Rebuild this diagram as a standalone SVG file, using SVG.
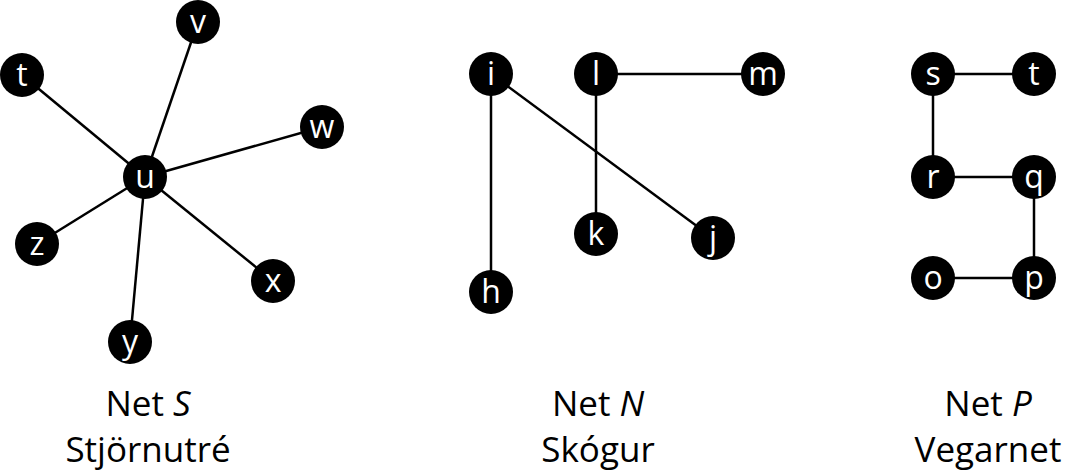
<svg xmlns="http://www.w3.org/2000/svg" width="1082" height="476" viewBox="0 0 1082 476">
<style>
.n circle{fill:#000}
.n text{fill:#fff;font-family:"Open Sans",sans-serif;font-size:32px;text-anchor:middle;dominant-baseline:central}
.e line{stroke:#000;stroke-width:2.5}
.c{font-family:"Open Sans",sans-serif;font-size:35px;text-anchor:middle;fill:#000}
</style>
<rect width="1082" height="476" fill="#fff"/>
<g class="e" id="connectors">
<line x1="145" y1="177" x2="22" y2="75"/>
<line x1="145" y1="177" x2="198" y2="22"/>
<line x1="145" y1="177" x2="322" y2="127"/>
<line x1="145" y1="177" x2="37" y2="244"/>
<line x1="145" y1="177" x2="273" y2="281"/>
<line x1="145" y1="177" x2="130" y2="342"/>
<line x1="491" y1="74" x2="491" y2="292"/>
<line x1="491" y1="74" x2="713" y2="238"/>
<line x1="596" y1="74" x2="763" y2="74"/>
<line x1="596" y1="74" x2="596" y2="234"/>
<line x1="933" y1="74" x2="1034" y2="74"/>
<line x1="933" y1="74" x2="933" y2="177"/>
<line x1="933" y1="177" x2="1034" y2="177"/>
<line x1="1034" y1="177" x2="1034" y2="278"/>
<line x1="933" y1="278" x2="1034" y2="278"/>
</g>
<g class="n" id="S_t"><circle cx="22" cy="75" r="22"/><text x="22" y="73">t</text></g>
<g class="n" id="S_v"><circle cx="198" cy="22" r="22"/><text x="198" y="20">v</text></g>
<g class="n" id="S_w"><circle cx="322" cy="127" r="22"/><text x="322" y="125">w</text></g>
<g class="n" id="S_u"><circle cx="145" cy="177" r="22"/><text x="145" y="175">u</text></g>
<g class="n" id="S_z"><circle cx="37" cy="244" r="22"/><text x="37" y="242">z</text></g>
<g class="n" id="S_x"><circle cx="273" cy="281" r="22"/><text x="273" y="279">x</text></g>
<g class="n" id="S_y"><circle cx="130" cy="342" r="22"/><text x="130" y="340">y</text></g>
<g class="n" id="N_i"><circle cx="491" cy="74" r="22"/><text x="491" y="72">i</text></g>
<g class="n" id="N_l"><circle cx="596" cy="74" r="22"/><text x="596" y="72">l</text></g>
<g class="n" id="N_m"><circle cx="763" cy="74" r="22"/><text x="763" y="72">m</text></g>
<g class="n" id="N_k"><circle cx="596" cy="234" r="22"/><text x="596" y="232">k</text></g>
<g class="n" id="N_j"><circle cx="713" cy="238" r="22"/><text x="713" y="236">j</text></g>
<g class="n" id="N_h"><circle cx="491" cy="292" r="22"/><text x="491" y="290">h</text></g>
<g class="n" id="P_s"><circle cx="933" cy="74" r="22"/><text x="933" y="72">s</text></g>
<g class="n" id="P_t"><circle cx="1034" cy="74" r="22"/><text x="1034" y="72">t</text></g>
<g class="n" id="P_r"><circle cx="933" cy="177" r="22"/><text x="933" y="175">r</text></g>
<g class="n" id="P_q"><circle cx="1034" cy="177" r="22"/><text x="1034" y="175">q</text></g>
<g class="n" id="P_o"><circle cx="933" cy="278" r="22"/><text x="933" y="276">o</text></g>
<g class="n" id="P_p"><circle cx="1034" cy="278" r="22"/><text x="1034" y="276">p</text></g>
<text class="c" x="148" y="416">Net <tspan font-style="italic">S</tspan></text>
<text class="c" x="148" y="462">Stjörnutré</text>
<text class="c" x="598" y="416">Net <tspan font-style="italic">N</tspan></text>
<text class="c" x="598" y="462">Skógur</text>
<text class="c" x="988" y="416">Net <tspan font-style="italic">P</tspan></text>
<text class="c" x="988" y="462">Vegarnet</text>
</svg>
